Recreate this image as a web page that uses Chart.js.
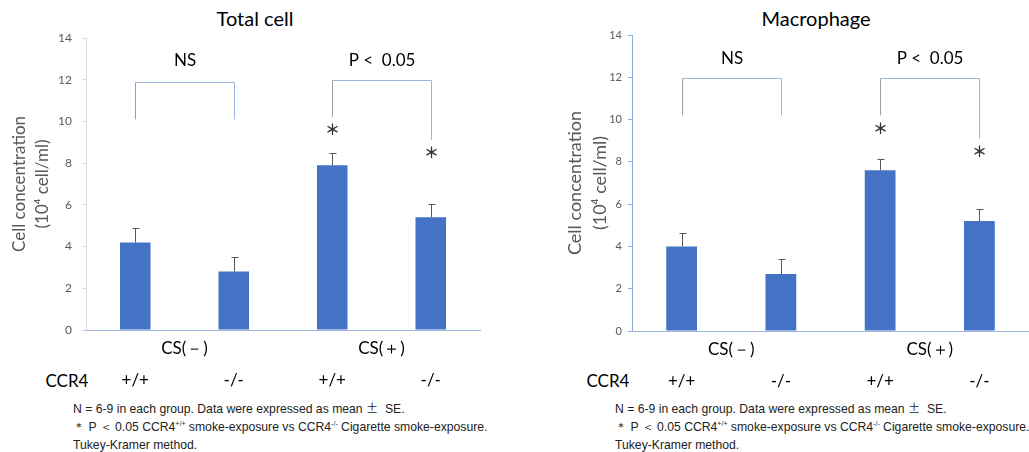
<!DOCTYPE html>
<html>
<head>
<meta charset="utf-8">
<script src="https://cdn.jsdelivr.net/npm/chart.js@4.4.0/dist/chart.umd.min.js"></script>
<style>
  html, body { margin: 0; padding: 0; background: #fff; width: 1029px; height: 452px; overflow: hidden; }
  canvas { position: absolute; top: 0; }
  .title { position: absolute; font-family: Lato; font-size: 20px; color: #000; transform: translate(-50%, -50%); white-space: nowrap; }
  .ccr4 { position: absolute; font-family: Lato; font-size: 17px; color: #000; transform: translate(-50%, -50%); }
  .note { position: absolute; top: 399px; font-family: "Liberation Sans"; font-size: 12.2px; line-height: 18px; color: #222; white-space: nowrap; }
  .note sup { font-size: 7px; line-height: 0; vertical-align: 5px; }
  .cjk { font-family: "Noto Sans CJK JP"; }
</style>
</head>
<body>
<div class="title" style="left:255px; top:18px">Total cell</div>
<div class="title" style="left:816px; top:18px">Macrophage</div>
<div class="ccr4" style="left:67px; top:380px">CCR4</div>
<div class="ccr4" style="left:608px; top:380px">CCR4</div>
<div class="note" style="left:73px">N = 6-9 in each group. Data were expressed as mean <span class="cjk">±</span>&nbsp; SE.<br>＊ P ＜ 0.05 CCR4<sup>+/+</sup> smoke-exposure vs CCR4<sup>-/-</sup> Cigarette smoke-exposure.<br>Tukey-Kramer method.</div>
<div class="note" style="left:615px">N = 6-9 in each group. Data were expressed as mean <span class="cjk">±</span>&nbsp; SE.<br>＊ P ＜ 0.05 CCR4<sup>+/+</sup> smoke-exposure vs CCR4<sup>-/-</sup> Cigarette smoke-exposure.<br>Tukey-Kramer method.</div>

<canvas id="totalChart" width="500" height="395" style="left:0"></canvas>
<canvas id="macroChart" width="509" height="396" style="left:520px"></canvas>

<script>
const groups = ['CS(－)', 'CS(＋)'];
const genotypes = ['+/+', '-/-', '+/+', '-/-'];

const totalMean = [4.2, 2.8, 7.9, 5.4];
const totalSE = [0.67, 0.7, 0.6, 0.63];
const macroMean = [4.0, 2.7, 7.6, 5.2];
const macroSE = [0.63, 0.71, 0.52, 0.57];

// [first bar, second bar, top, left leg end, right leg end]
const totalBrackets = [[0, 1, 11.9, 10.1, 10.1], [2, 3, 12.0, 10.2, 9.1]];
const macroBrackets = [[0, 1, 11.95, 10.2, 10.2], [2, 3, 11.95, 10.2, 9.1]];
const bracketLabels = ['NS', 'P <  0.05'];
const bracketLabelY = 12.9;

const starBars = [2, 3];
const totalStarY = [9.6, 8.5];
const macroStarY = [9.6, 8.5];

Chart.defaults.font.family = 'Lato';

// error bars, brackets and asterisks
const marks = {
  id: 'marks',
  afterDatasetsDraw(chart, args, o) {
    const ctx = chart.ctx;
    const y = chart.scales.y;
    const meta = chart.getDatasetMeta(0);
    const cx = i => Math.round(meta.data[i].x) + 0.5;
    ctx.save();
    ctx.lineWidth = 1;
    ctx.strokeStyle = '#595959';
    o.mean.forEach((m, i) => {
      const top = Math.round(y.getPixelForValue(m + o.se[i])) + 0.5;
      ctx.beginPath();
      ctx.moveTo(cx(i), y.getPixelForValue(m));
      ctx.lineTo(cx(i), top);
      ctx.moveTo(cx(i) - 3, top);
      ctx.lineTo(cx(i) + 4, top);
      ctx.stroke();
    });
    o.brackets.forEach((b, k) => {
      const x1 = cx(b[0]), x2 = cx(b[1]);
      const yt = Math.round(y.getPixelForValue(b[2])) + 0.5;
      ctx.strokeStyle = '#a0a0a0';
      ctx.beginPath();
      ctx.moveTo(x1, yt);
      ctx.lineTo(x1, y.getPixelForValue(b[3]));
      ctx.stroke();
      ctx.strokeStyle = '#9db4de';
      ctx.beginPath();
      ctx.moveTo(x1, yt);
      ctx.lineTo(x2, yt);
      ctx.lineTo(x2, y.getPixelForValue(b[4]));
      ctx.stroke();
      ctx.fillStyle = '#000';
      ctx.font = '17px Lato';
      ctx.textAlign = 'center';
      ctx.textBaseline = 'middle';
      ctx.fillText(bracketLabels[k], (x1 + x2) / 2, y.getPixelForValue(bracketLabelY));
    });
    ctx.font = 'bold 15px "Noto Sans CJK JP"';
    ctx.fillStyle = '#333';
    starBars.forEach((i, k) => {
      ctx.fillText('＊', cx(i), y.getPixelForValue(o.starY[k]));
    });
    ctx.restore();
  }
};

function makeChart(id, mean, se, brackets, starY, o) {
  return new Chart(document.getElementById(id), {
    type: 'bar',
    data: {
      labels: genotypes,
      datasets: [{
        data: mean,
        xAxisID: 'x',
        yAxisID: 'y',
        backgroundColor: '#4472c4',
        categoryPercentage: 1,
        barPercentage: 0.31,
      }],
    },
    options: {
      responsive: false,
      animation: false,
      layout: { padding: { left: 0, right: o.padRight, top: o.padTop, bottom: 0 } },
      plugins: {
        legend: { display: false },
        tooltip: { enabled: false },
        marks: { mean: mean, se: se, brackets: brackets, starY: starY },
      },
      scales: {
        y: {
          min: 0,
          max: 14,
          ticks: { stepSize: 2, color: '#595959', font: { size: o.tickSize }, padding: o.tickPad },
          grid: { drawOnChartArea: false, tickLength: 4, color: o.yColor },
          border: { color: o.yColor },
          title: {
            display: true,
            text: ['Cell concentration', '(10⁴ cell/ml)'],
            color: '#595959',
            font: { size: o.yTitleSize, lineHeight: o.yLine },
            padding: { top: o.yTitlePad, bottom: 0 },
          },
          afterFit: s => { s.width = o.yWidth; },
        },
        xg: {
          type: 'category',
          labels: groups,
          position: 'bottom',
          weight: 0,
          offset: true,
          grid: { display: false, drawTicks: false },
          border: { color: '#9db4de' },
          ticks: { color: '#000', font: { size: 17 }, padding: 8 },
          afterFit: s => { s.height = 33; },
        },
        x: {
          position: 'bottom',
          weight: 1,
          grid: { display: false, drawTicks: false },
          border: { display: false },
          ticks: { color: '#000', font: { size: 17 }, padding: 7 },
          afterFit: s => { s.height = 32; },
        },
      },
    },
    plugins: [marks],
  });
}

makeChart('totalChart', totalMean, totalSE, totalBrackets, totalStarY, {
  padRight: 20, padTop: 38, tickSize: 12, tickPad: 10, yColor: '#d9d9d9',
  yTitleSize: 17, yLine: 1.35, yTitlePad: 8, yWidth: 86,
});
makeChart('macroChart', macroMean, macroSE, macroBrackets, macroStarY, {
  padRight: 0, padTop: 35, tickSize: 11, tickPad: 6, yColor: '#8faadc',
  yTitleSize: 18, yLine: 1.39, yTitlePad: 43, yWidth: 112,
});
</script>
</body>
</html>
